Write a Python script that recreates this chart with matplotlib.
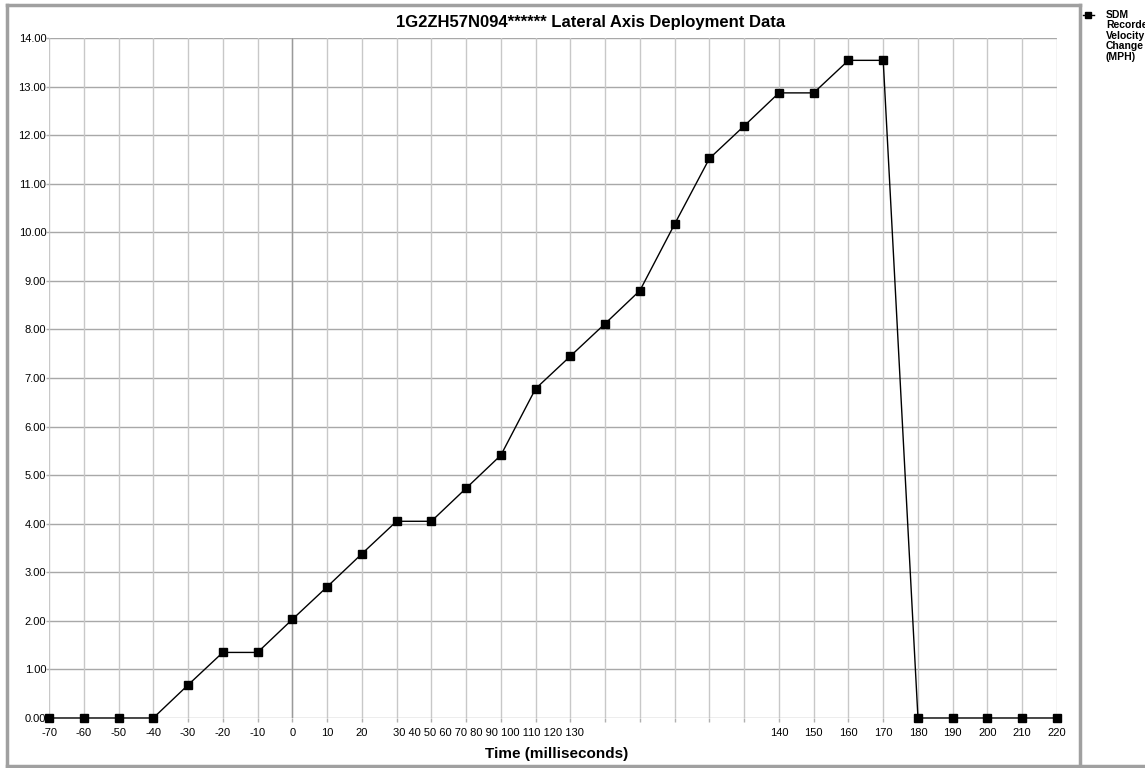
import matplotlib
matplotlib.use("Agg")
import matplotlib.pyplot as plt
from matplotlib.lines import Line2D

plt.rcParams['font.family'] = ['Liberation Sans', 'DejaVu Sans']

# categories (ms) and SDM recorded velocity change (MPH)
time_ms = [-70, -60, -50, -40, -30, -20, -10, 0, 10, 20,
           30, 40, 50, 60, 70, 80, 90, 100, 110, 120,
           130, 140, 150, 160, 170, 180, 190, 200, 210, 220]
delta_v = [0.0, 0.0, 0.0, 0.0, 0.68, 1.35, 1.35, 2.03, 2.70, 3.38,
           4.05, 4.05, 4.73, 5.41, 6.78, 7.45, 8.12, 8.80, 10.17, 11.52,
           12.19, 12.87, 12.87, 13.54, 13.54, 0.0, 0.0, 0.0, 0.0, 0.0]
# labels 40..130 got squeezed together next to "30" in the original
squeezed = [40, 50, 60, 70, 80, 90, 100, 110, 120, 130]
y_ticks = [0, 1, 2, 3, 4, 5, 6, 7, 8, 9, 10, 11, 12, 13, 14]

W, H = 1145, 768
fig = plt.figure(figsize=(W / 100, H / 100), dpi=100)
ax = fig.add_axes([49 / W, 1 - 718 / H, (1057 - 49) / W, (718 - 38) / H])

x = list(range(len(time_ms)))
ax.set_xlim(0, len(time_ms) - 1)
ax.set_ylim(0, 14)

ax.set_yticks(y_ticks)
ax.set_yticklabels(['%.2f' % v for v in y_ticks])
ax.set_xticks(x)
labels = []
for t in time_ms:
    if t in squeezed or t == 30:
        labels.append('')
    else:
        labels.append(str(t))
ax.set_xticklabels(labels)
# the crowded label run starting at 30
i30 = time_ms.index(30)
ax.text(i30 - 0.1, -10 / 680, ' '.join(str(t) for t in [30] + squeezed),
        transform=ax.get_xaxis_transform(), ha='left', va='top', fontsize=8)

for s in ax.spines.values():
    s.set_visible(False)
ax.tick_params(axis='both', labelsize=8, color='#b0b0b0', width=1)
ax.tick_params(axis='y', length=2, pad=0)
ax.tick_params(axis='x', length=3, pad=4)

for v in y_ticks:
    ax.axhline(v, color='#a8a8a8', lw=1, zorder=1)
for i in x:
    ax.axvline(i, color='#c8c8c8', lw=1, zorder=1)
ax.axvline(time_ms.index(0), color='#9a9a9a', lw=1, zorder=1)

ax.plot(x, delta_v, color='black', lw=1, marker='s', markersize=6,
        clip_on=False, zorder=3)

fig.text(591 / W, 1 - 22 / H, '1G2ZH57N094****** Lateral Axis Deployment Data',
         ha='center', va='center', fontsize=12, fontweight='bold')
fig.text(557 / W, 1 - 754 / H, 'Time (milliseconds)', ha='center', va='center',
         fontsize=11, fontweight='bold')

# outer frame
frame_c = '#a0a0a0'
fig.add_artist(Line2D([7 / W, 1080 / W], [1 - 5 / H, 1 - 5 / H], color=frame_c, lw=2.5))
fig.add_artist(Line2D([7 / W, 7 / W], [1 - 5 / H, 1 - 766 / H], color=frame_c, lw=2.5))
fig.add_artist(Line2D([1080 / W, 1080 / W], [1 - 5 / H, 1 - 766 / H], color=frame_c, lw=2.5))
fig.add_artist(Line2D([7 / W, 1], [1 - 766 / H, 1 - 766 / H], color=frame_c, lw=2.5))

# legend
fig.add_artist(Line2D([1083 / W, 1094 / W], [1 - 15 / H, 1 - 15 / H], color='black', lw=1))
fig.add_artist(Line2D([1088 / W], [1 - 15 / H], color='black', marker='s', markersize=5))
fig.text(1106 / W, 1 - 10 / H, 'SDM\nRecorded\nVelocity\nChange\n(MPH)', ha='left', va='top',
         fontsize=7.5, fontweight='bold', linespacing=1.05)

fig.savefig('out.png', dpi=100)
